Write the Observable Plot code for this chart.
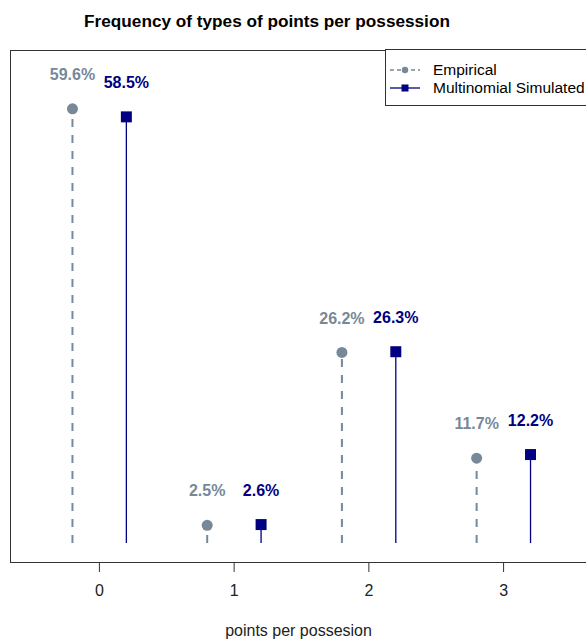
<!DOCTYPE html>
<html>
<head>
<meta charset="utf-8">
<script src="https://cdn.jsdelivr.net/npm/d3@7"></script>
<script src="https://cdn.jsdelivr.net/npm/@observablehq/plot@0.6"></script>
<style>
  html, body { margin: 0; padding: 0; background: #fff; }
  #wrap { position: relative; width: 586px; height: 644px; overflow: hidden; font-family: "Liberation Sans", Arial, sans-serif; }
  #title { width: 534px; height: 42px; line-height: 42px; text-align: center; font-weight: bold; font-size: 17.2px; color: #000; white-space: nowrap; }
  #legend { position: absolute; left: 385px; top: 49px; width: 220px; height: 57px; border: 1px solid #333; background: #fff; box-sizing: border-box; }
</style>
</head>
<body>
<div id="wrap">
  <div id="title">Frequency of types of points per possession</div>
  <div id="chart"></div>
  <div id="legend"></div>
</div>
<script>
const categories = [0, 1, 2, 3];
const empiricalPct = [59.6, 2.5, 26.2, 11.7];
const simulatedPct = [58.5, 2.6, 26.3, 12.2];
const seriesNames = ["Empirical", "Multinomial Simulated"];
const xLabel = "points per possesion";

const grey = "#778899";
const navy = "#000080";

const emp = categories.map((c, i) => ({cat: c, x: c - 0.2, v: empiricalPct[i], label: empiricalPct[i].toFixed(1) + "%"}));
const sim = categories.map((c, i) => ({cat: c, x: c + 0.2, v: simulatedPct[i], label: simulatedPct[i].toFixed(1) + "%"}));

const chart = Plot.plot({
  width: 586,
  height: 602,
  marginTop: 8,
  marginBottom: 82,
  marginLeft: 10,
  marginRight: 0,
  style: {fontFamily: "'Liberation Sans', Arial, sans-serif", fontSize: "16px", color: "#222", background: "white"},
  x: {domain: [-0.66, 3.66], range: [10, 592]},
  y: {domain: [-2.6, 67.6], axis: null},
  marks: [
    Plot.frame({anchor: "left", stroke: "#333"}),
    Plot.frame({anchor: "top", stroke: "#333"}),
    Plot.frame({anchor: "bottom", stroke: "#333"}),
    Plot.axisX(categories, {tickSize: 10, tickPadding: 12, tickFormat: d => String(d), stroke: "#333", fill: "#222", fontSize: 16,
      label: xLabel, labelAnchor: "center", labelArrow: "none", labelOffset: 73}),
    Plot.ruleX(emp, {x: "x", y1: 0, y2: "v", stroke: grey, strokeWidth: 2, strokeDasharray: "8,8"}),
    Plot.ruleX(sim, {x: "x", y1: 0, y2: "v", stroke: navy, strokeWidth: 1.3}),
    Plot.dot(emp, {x: "x", y: "v", r: 5.5, fill: grey, stroke: null}),
    Plot.dot(sim, {x: "x", y: "v", r: 6.2, symbol: "square", fill: navy, stroke: null}),
    Plot.text(emp, {x: "x", y: "v", text: "label", dy: -34, fill: grey, fontWeight: "bold", fontSize: 16}),
    Plot.text(sim, {x: "x", y: "v", text: "label", dy: -34, fill: navy, fontWeight: "bold", fontSize: 16})
  ]
});
document.getElementById("chart").appendChild(chart);

// legend
const ns = "http://www.w3.org/2000/svg";
const lsvg = document.createElementNS(ns, "svg");
lsvg.setAttribute("width", 220);
lsvg.setAttribute("height", 57);
lsvg.style.display = "block";
const styles = [
  {stroke: grey, dash: "4,3", width: 1.5, shape: "circle", fill: grey},
  {stroke: navy, dash: null, width: 1.3, shape: "square", fill: navy}
];
seriesNames.forEach((name, i) => {
  const cy = 20 + i * 18;
  const s = styles[i];
  const line = document.createElementNS(ns, "line");
  line.setAttribute("x1", 4); line.setAttribute("x2", 34);
  line.setAttribute("y1", cy); line.setAttribute("y2", cy);
  line.setAttribute("stroke", s.stroke); line.setAttribute("stroke-width", s.width);
  if (s.dash) line.setAttribute("stroke-dasharray", s.dash);
  lsvg.appendChild(line);
  let sym;
  if (s.shape === "circle") {
    sym = document.createElementNS(ns, "circle");
    sym.setAttribute("cx", 19); sym.setAttribute("cy", cy); sym.setAttribute("r", 3.2);
  } else {
    sym = document.createElementNS(ns, "rect");
    sym.setAttribute("x", 15.5); sym.setAttribute("y", cy - 3.5);
    sym.setAttribute("width", 7); sym.setAttribute("height", 7);
  }
  sym.setAttribute("fill", s.fill);
  lsvg.appendChild(sym);
  const t = document.createElementNS(ns, "text");
  t.setAttribute("x", 47); t.setAttribute("y", cy);
  t.setAttribute("dy", "0.35em");
  t.setAttribute("font-size", 15.5);
  t.setAttribute("font-family", "'Liberation Sans', Arial, sans-serif");
  t.setAttribute("fill", "#000");
  t.textContent = name;
  lsvg.appendChild(t);
});
document.getElementById("legend").appendChild(lsvg);
</script>
</body>
</html>
